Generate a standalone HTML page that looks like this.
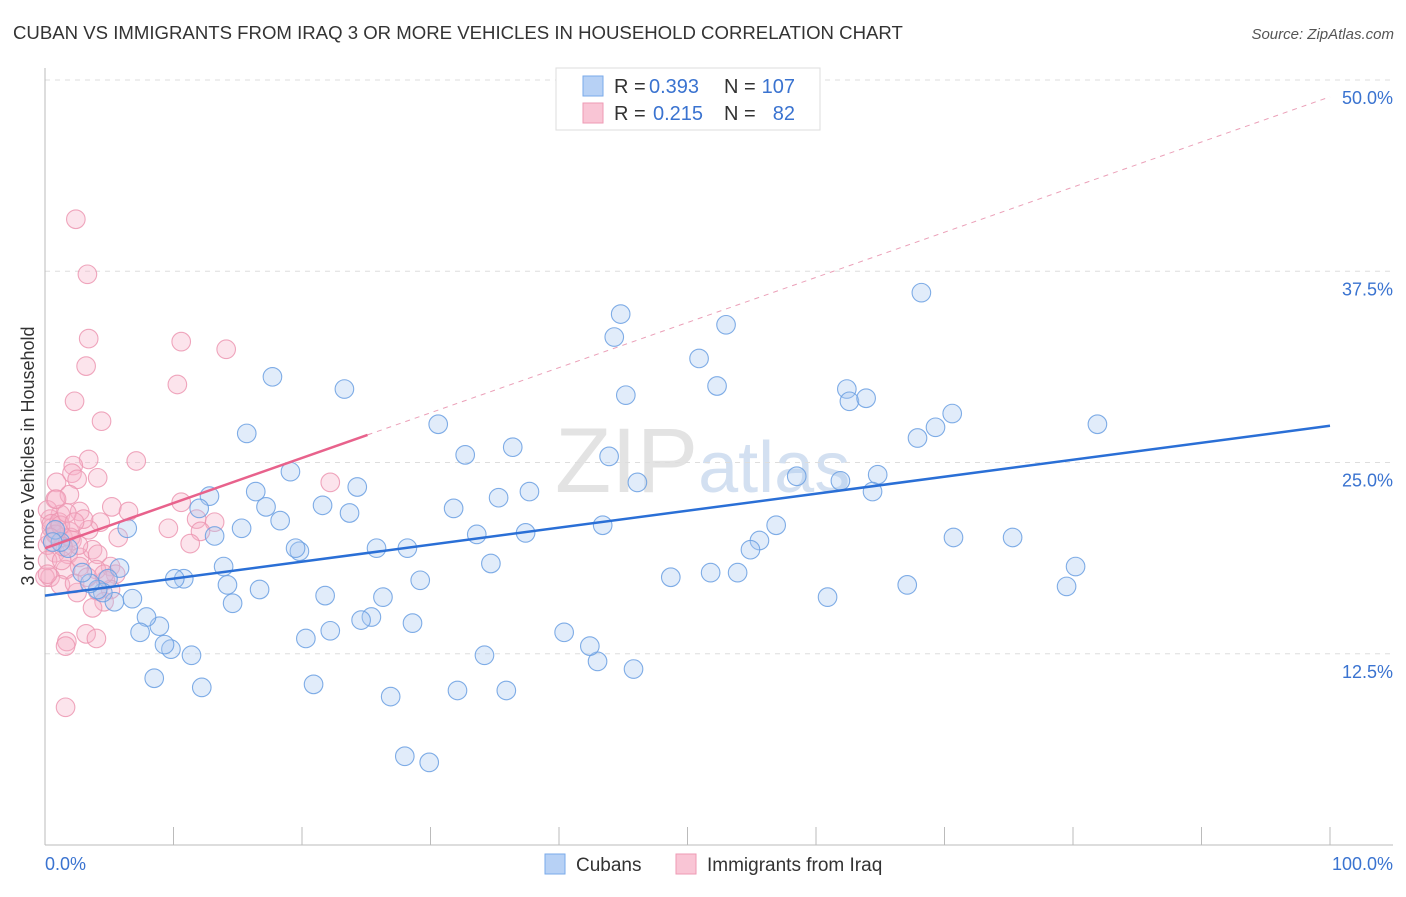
<!DOCTYPE html>
<html><head><meta charset="utf-8"><style>
body{margin:0;background:#fff;font-family:"Liberation Sans",sans-serif;}
svg text{font-family:"Liberation Sans",sans-serif;}
</style></head><body>
<svg id="chart" width="1406" height="892" xmlns="http://www.w3.org/2000/svg">
<text x="13" y="39" font-size="18.6" fill="#333">CUBAN VS IMMIGRANTS FROM IRAQ 3 OR MORE VEHICLES IN HOUSEHOLD CORRELATION CHART</text>
<text x="1394" y="39" font-size="15" fill="#555" text-anchor="end" font-style="italic">Source: ZipAtlas.com</text>
<text x="555" y="492" font-size="92" fill="#ddd" font-family="Liberation Serif" opacity="0.8">ZIP<tspan fill="#c9d9ee" font-family="Liberation Sans" font-size="72">atlas</tspan></text>
<text transform="translate(34,456) rotate(-90)" font-size="18" fill="#333" text-anchor="middle">3 or more Vehicles in Household</text>
<g id="grid"></g><g id="lines"></g><g id="pts"></g>
<g>
<rect x="556" y="68" width="264" height="62" fill="#fff" stroke="#ddd"/>
<rect x="583" y="76" width="20" height="20" fill="#b7d1f5" stroke="#7aaaea"/>
<rect x="583" y="103" width="20" height="20" fill="#f9c5d5" stroke="#ee9ab4"/>
<text x="614" y="93" font-size="20" fill="#333">R =</text>
<text x="649" y="93" font-size="20" fill="#3a73d0">0.393</text>
<text x="724" y="93" font-size="20" fill="#333">N =</text>
<text x="795" y="93" font-size="20" fill="#3a73d0" text-anchor="end">107</text>
<text x="614" y="120" font-size="20" fill="#333">R =</text>
<text x="653" y="120" font-size="20" fill="#3a73d0">0.215</text>
<text x="724" y="120" font-size="20" fill="#333">N =</text>
<text x="795" y="120" font-size="20" fill="#3a73d0" text-anchor="end">82</text>
</g>
<g>
<rect x="545" y="854" width="20" height="20" fill="#b7d1f5" stroke="#7aaaea"/>
<text x="576" y="871" font-size="19" fill="#333">Cubans</text>
<rect x="676" y="854" width="20" height="20" fill="#f9c5d5" stroke="#ee9ab4"/>
<text x="707" y="871" font-size="19" fill="#333">Immigrants from Iraq</text>
</g>
</svg>
<script>
const yTicks=[12.5,25,37.5,50];
const xTickVals=[0,10,20,30,40,50,60,70,80,90,100];
const xEndLabels=["0.0%","100.0%"];
const cubanX=[44.8,44.3,53.0,50.9,52.3,45.2,68.2,62.4,62.6,63.9,81.9,70.6,69.3,67.9,64.8,64.4,61.9,58.5,56.9,55.6,54.9,70.7,75.3,80.2,79.5,67.1,60.9,53.9,51.8,48.7,45.8,43.0,42.4,40.4,43.4,43.9,46.1,36.4,37.7,35.3,37.4,33.6,34.7,31.8,32.7,30.6,34.2,32.1,35.9,29.9,28.0,26.9,28.6,29.2,28.2,25.8,26.3,25.4,24.6,24.3,23.7,23.3,21.6,22.2,21.8,20.3,20.9,19.8,19.5,19.1,18.3,17.2,16.4,17.7,15.7,16.7,15.3,14.6,14.2,13.9,13.2,12.8,12.0,12.2,11.4,10.8,10.1,9.8,9.3,8.9,8.5,7.9,7.4,6.8,6.4,5.8,5.4,4.9,4.5,4.1,3.5,2.9,1.8,1.2,0.8,0.6];
const cubanY=[34.7,33.2,34.0,31.8,30.0,29.4,36.1,29.8,29.0,29.2,27.5,28.2,27.3,26.6,24.2,23.1,23.8,24.1,20.9,19.9,19.3,20.1,20.1,18.2,16.9,17.0,16.2,17.8,17.8,17.5,11.5,12.0,13.0,13.9,20.9,25.4,23.7,26.0,23.1,22.7,20.4,20.3,18.4,22.0,25.5,27.5,12.4,10.1,10.1,5.4,5.8,9.7,14.5,17.3,19.4,19.4,16.2,14.9,14.7,23.4,21.7,29.8,22.2,14.0,16.3,13.5,10.5,19.2,19.4,24.4,21.2,22.1,23.1,30.6,26.9,16.7,20.7,15.8,17.0,18.2,20.2,22.8,22.0,10.3,12.4,17.4,17.4,12.8,13.1,14.3,10.9,14.9,13.9,16.1,20.7,18.1,15.9,17.4,16.5,16.7,17.1,17.8,19.4,19.8,20.6,19.8];
const iraqX=[2.4,3.3,3.4,3.2,10.6,14.1,10.3,2.3,4.4,7.1,22.2,3.4,2.2,2.1,2.5,4.1,0.9,0.8,1.9,2.7,5.2,6.5,10.6,11.8,13.2,12.1,11.3,9.6,5.7,4.3,3.4,1.2,0.4,0.2,0.5,0.9,1.4,2.1,0.8,1.8,2.7,3.7,4.1,5.1,5.5,4.7,4.0,2.7,1.6,0.4,0.0,1.2,2.5,4.1,5.1,4.6,3.7,3.2,4.0,1.7,1.6,1.6,0.2,0.5,1.1,1.9,3.0,2.3,3.3,4.6,0.2,1.3,0.9,2.0,2.6,0.8,1.2,1.4,0.4,1.7,2.3,0.2];
const iraqY=[40.9,37.3,33.1,31.3,32.9,32.4,30.1,29.0,27.7,25.1,23.7,25.2,24.8,24.3,23.9,24.0,23.7,22.6,22.9,21.8,22.1,21.8,22.4,21.3,21.1,20.5,19.7,20.7,20.1,21.1,20.6,21.6,21.3,19.6,20.7,20.3,20.1,19.9,19.1,19.0,18.8,19.3,19.0,18.2,17.7,17.3,18.0,18.2,18.0,17.5,17.5,17.0,16.5,16.6,16.7,15.9,15.5,13.8,13.5,13.3,13.0,9.0,21.9,21.0,21.1,20.5,21.3,17.1,17.5,17.7,18.6,18.6,22.6,20.1,19.6,20.3,20.9,19.5,20.1,21.7,21.1,17.7];
const cubanTrend=[16.3,27.4];
const iraqTrend=[19.4,48.9];
const iraqSolidEnd=25.1;
const X0=45,X1=1330,Y0=845,PX=15.3;
const xs=v=>X0+(X1-X0)*v/100, ys=v=>Y0-v*PX;
const NS="http://www.w3.org/2000/svg";
function mk(tag,attrs,parent){const e=document.createElementNS(NS,tag);for(const k in attrs)e.setAttribute(k,attrs[k]);parent.appendChild(e);return e;}
const grid=document.getElementById('grid');
yTicks.forEach(t=>{
 const l=mk('line',{x1:X0,x2:1393,y1:ys(t),y2:ys(t),stroke:'#ddd','stroke-dasharray':'5,5'},grid);
 
 
 const tx=mk('text',{x:1393,y:ys(t)+24,'font-size':18,fill:'#3a73d0','text-anchor':'end'},grid);
 tx.textContent=t.toFixed(1)+'%';
 
 
});
const ax=mk('line',{x1:X0,x2:X0,y1:68,y2:Y0,stroke:'#bbb'},grid);


const bx=mk('line',{x1:X0,x2:1393,y1:Y0,y2:Y0,stroke:'#bbb'},grid);


xTickVals.forEach(t=>{const l=mk('line',{x1:xs(t),x2:xs(t),y1:Y0,y2:Y0-18,stroke:'#bbb'},grid);
 
 });
[[0,'start'],[1,'end']].forEach(([i,a])=>{const t=mk('text',{x:i?1393:X0,y:870,'font-size':18,fill:'#3a73d0','text-anchor':a},grid);t.textContent=xEndLabels[i];
 
 });
const pts=document.getElementById('pts');
function dots(X,Y,fill,stroke,name){X.forEach((x,i)=>{const c=mk('circle',{cx:xs(x),cy:ys(Y[i]),r:9.3,fill:fill,'fill-opacity':0.35,stroke:stroke,'stroke-opacity':0.85,'stroke-width':1.1},pts);
 
 });}
dots(iraqX,iraqY,'#f5b3c8','#ec96b2','iraq-point');
dots(cubanX,cubanY,'#a9c8f0','#6a9fe2','cuban-point');
const lines=document.getElementById('lines');
const iy=x=>iraqTrend[0]+(iraqTrend[1]-iraqTrend[0])*x/100;
const d=mk('line',{x1:xs(iraqSolidEnd),y1:ys(iy(iraqSolidEnd)),x2:xs(100),y2:ys(iraqTrend[1]),stroke:'#eba0b8','stroke-dasharray':'5,5','stroke-width':1},lines);


const ps=mk('line',{x1:xs(0),y1:ys(iraqTrend[0]),x2:xs(iraqSolidEnd),y2:ys(iy(iraqSolidEnd)),stroke:'#e8628c','stroke-width':2.5},document.getElementById('chart'));


const cb=mk('line',{x1:xs(0),y1:ys(cubanTrend[0]),x2:xs(100),y2:ys(cubanTrend[1]),stroke:'#2a6fd6','stroke-width':2.5},document.getElementById('chart'));


</script>
</body></html>
